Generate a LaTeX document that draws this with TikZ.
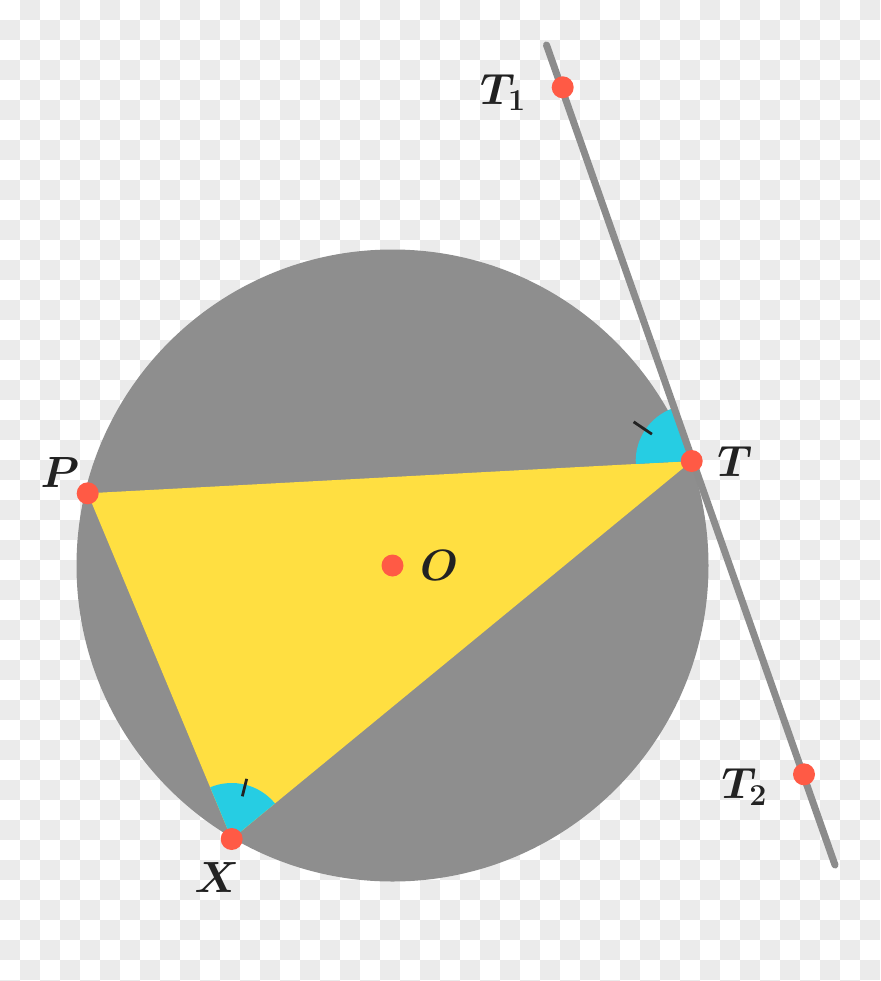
\documentclass[tikz,border=0pt]{standalone}
\usepackage{tikz}
\usepackage{amsmath}
\usetikzlibrary{positioning}
\definecolor{checkgray}{HTML}{EBEBEB}
\definecolor{discgray}{HTML}{8E8E8E}
\definecolor{linegray}{HTML}{8C8C8C}
\definecolor{triyellow}{HTML}{FFDF41}
\definecolor{anglecyan}{HTML}{26CDE3}
\definecolor{dotred}{HTML}{FF5A45}
\definecolor{inkblack}{HTML}{222222}
\tikzset{
	dot/.style={
		circle,
		fill=dotred,
		inner sep=0pt,
		minimum size=.44cm
	},
	lbl/.style={
		inner sep=0pt,
		text=inkblack,
		font=\fontsize{24}{28}\selectfont\boldmath
	},
	tangent/.style={
		draw=linegray,
		line width=4pt,
		line cap=round
	},
	anglemark/.style={
		draw=inkblack,
		line width=1.6pt
	}
}

\begin{document}
\begin{tikzpicture}[x=.02cm, y=.02cm]
	\useasboundingbox (0,0) rectangle (880,-981);
	\clip (0,0) rectangle (880,-981);
	\foreach \i in {0,...,43}{
		\foreach \j in {0,...,49}{
			\pgfmathtruncatemacro{\k}{mod(\i+\j,2)}
			\ifnum\k=1 \fill[checkgray] (20*\i,-20*\j) rectangle ++(20,-20); \fi
		}
	}
	
	\coordinate (O) at (392.5,-565.5);
	\coordinate (P) at (87.7,-493.3);
	\coordinate (T) at (691.7,-461);
	\coordinate (X) at (231.7,-839);
	\coordinate (T1) at (562.7,-87.3);
	\coordinate (T2) at (804,-774.3);
	\coordinate (Ta) at (546.5,-45);
	\coordinate (Tb) at (835,-865);
	
	\fill[discgray] (O) circle (316);
	\fill[triyellow] (P) -- (T) -- (X) -- cycle;
	
	\fill[anglecyan] (T) -- ++(109:56) arc[start angle=109, end angle=183, radius=56] -- cycle;
	\fill[anglecyan] (X) -- ++(39.4:56) arc[start angle=39.4, end angle=112.6, radius=56] -- cycle;
	\draw[anglemark] (T) ++(146:48) -- ++(146:22);
	\draw[anglemark] (X) ++(76:44) -- ++(76:18);
	
	\draw[tangent] (Ta) -- (Tb);
	
	\node[dot] (Pdot) at (P) {};
	\node[dot] (Tdot) at (T) {};
	\node[dot] (Xdot) at (X) {};
	\node[dot] (Odot) at (O) {};
	\node[dot] (T1dot) at (T1) {};
	\node[dot] (T2dot) at (T2) {};
	
	\node[lbl, above left=-.05cm and 0cm of Pdot] (Plbl) {$P$};
	\node[lbl, right=.28cm of Tdot] (Tlbl) {$T$};
	\node[lbl, right=.32cm of Odot] (Olbl) {$O$};
	\node[lbl, below=.23cm of Xdot, xshift=-.3cm] (Xlbl) {$X$};
	\node[lbl, left=.5cm of T1dot, yshift=-.1cm] (T1lbl) {$T_1$};
	\node[lbl, left=.5cm of T2dot, yshift=-.25cm] (T2lbl) {$T_2$};
\end{tikzpicture}
\end{document}
